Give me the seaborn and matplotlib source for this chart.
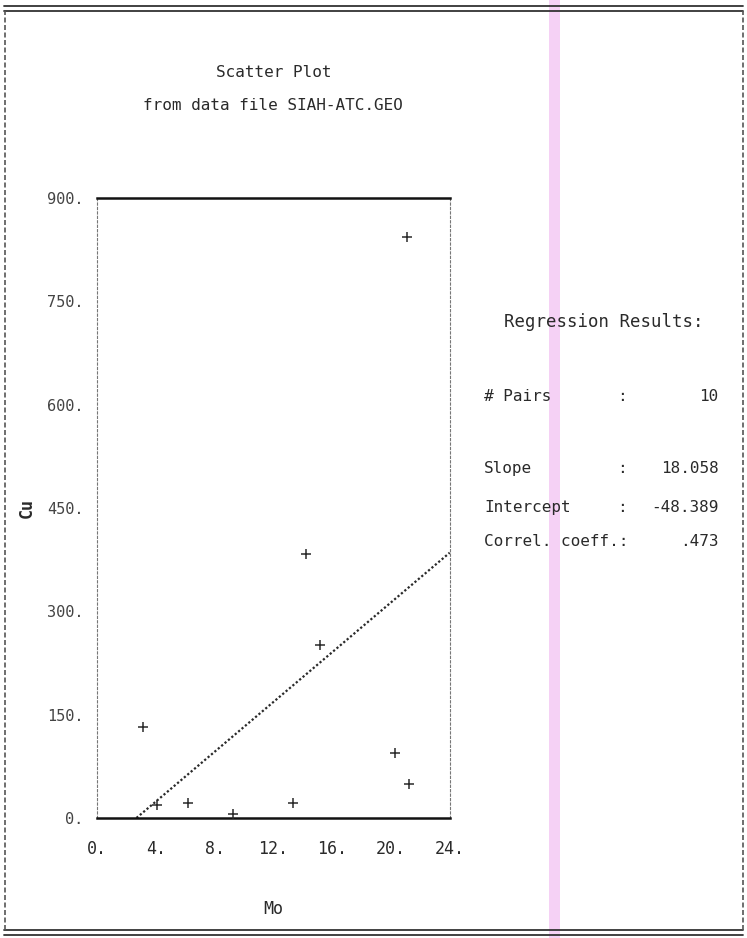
import matplotlib
matplotlib.use("Agg")
import matplotlib.pyplot as plt
from matplotlib.patches import Rectangle
from matplotlib.lines import Line2D
import seaborn as sns
import numpy as np
import pandas as pd

# data
mo = [3.1, 4.1, 6.2, 9.25, 13.3, 14.2, 15.2, 20.3, 21.2, 21.1]
cu = [132, 19, 22, 6, 22, 383, 251, 94, 49, 843]

x_ticks = [0, 4, 8, 12, 16, 20, 24]
x_tick_labels = ["0.", "4.", "8.", "12.", "16.", "20.", "24."]
y_ticks = [0, 150, 300, 450, 600, 750, 900]
y_tick_labels = ["0.", "150.", "300.", "450.", "600.", "750.", "900."]

slope = 18.058
intercept = -48.389

stat_names = ["# Pairs", "Slope", "Intercept", "Correl. coeff.:"]
stat_seps = [":", ":", ":", ""]
stat_values = ["10", "18.058", "-48.389", ".473"]

df = pd.DataFrame({"Mo": mo, "Cu": cu})

sns.set_theme(style="white")
plt.rcParams['font.family'] = ['DejaVu Sans Mono', 'DejaVu Sans']
ink = "#2a2a2a"

fig = plt.figure(figsize=(7.47, 9.38), dpi=100)
ax = fig.add_axes([0.130, 0.128, 0.472, 0.661])

# points
sns.scatterplot(data=df, x="Mo", y="Cu", marker="+", s=45, color=ink,
                linewidth=1.1, ax=ax, zorder=3)

# regression line, from where it crosses zero up to the right edge
x0 = -intercept / slope
fit_x = np.array([x0, x_ticks[-1]])
fit = pd.DataFrame({"Mo": fit_x, "Cu": slope * fit_x + intercept})
sns.lineplot(data=fit, x="Mo", y="Cu", color=ink, linestyle=(0, (1, 1)),
             linewidth=1.6, ax=ax)

ax.set_xlim(x_ticks[0], x_ticks[-1])
ax.set_ylim(y_ticks[0], y_ticks[-1])
ax.set_xticks(x_ticks)
ax.set_xticklabels(x_tick_labels, fontsize=12, color=ink)
ax.set_yticks(y_ticks)
ax.set_yticklabels(y_tick_labels, fontsize=11, color="#444444")
ax.tick_params(axis="x", direction="out", length=6, width=0.8, color="#777777", pad=10)
ax.tick_params(axis="y", direction="in", length=4, width=1.0, color="#555555", pad=10)

ax.set_xlabel("Mo", fontsize=12, color=ink, labelpad=30)
ax.set_ylabel("Cu", fontsize=12, color=ink, labelpad=8, fontweight="bold")

for side in ["top", "bottom"]:
    ax.spines[side].set_color("#111111")
    ax.spines[side].set_linewidth(1.8)
for side in ["left", "right"]:
    ax.spines[side].set_color("#777777")
    ax.spines[side].set_linewidth(0.8)
    ax.spines[side].set_linestyle((0, (2, 2)))

# titles
fig.text(0.366, 0.923, "Scatter Plot", ha="center", va="center", fontsize=11.5, color=ink)
fig.text(0.366, 0.888, "from data file SIAH-ATC.GEO", ha="center", va="center",
         fontsize=11.5, color=ink)

# regression results block
fig.text(0.675, 0.657, "Regression Results:", ha="left", va="center", fontsize=12.5, color=ink)
rows_y = [0.577, 0.501, 0.459, 0.423]
for name, sep, val, yy in zip(stat_names, stat_seps, stat_values, rows_y):
    fig.text(0.648, yy, name, ha="left", va="center", fontsize=11.5, color=ink)
    if sep:
        fig.text(0.833, yy, sep, ha="center", va="center", fontsize=11.5, color=ink)
    fig.text(0.962, yy, val, ha="right", va="center", fontsize=11.5, color=ink)

# pink scanner stripe
fig.patches.append(Rectangle((0.735, 0.0), 0.014, 1.0, transform=fig.transFigure,
                             facecolor="#f3c6f3", edgecolor="none", alpha=0.8, zorder=0))

# page frame: double lines top and bottom, dashed sides
for yy in [0.994, 0.988, 0.009, 0.003]:
    fig.add_artist(Line2D([0.005, 0.995], [yy, yy], transform=fig.transFigure,
                          color="#333333", linewidth=1.3))
for xx in [0.007, 0.994]:
    fig.add_artist(Line2D([xx, xx], [0.009, 0.988], transform=fig.transFigure,
                          color="#555555", linewidth=1.2, linestyle=(0, (3, 1.5))))

fig.savefig("out.png", dpi=100)
plt.close()
